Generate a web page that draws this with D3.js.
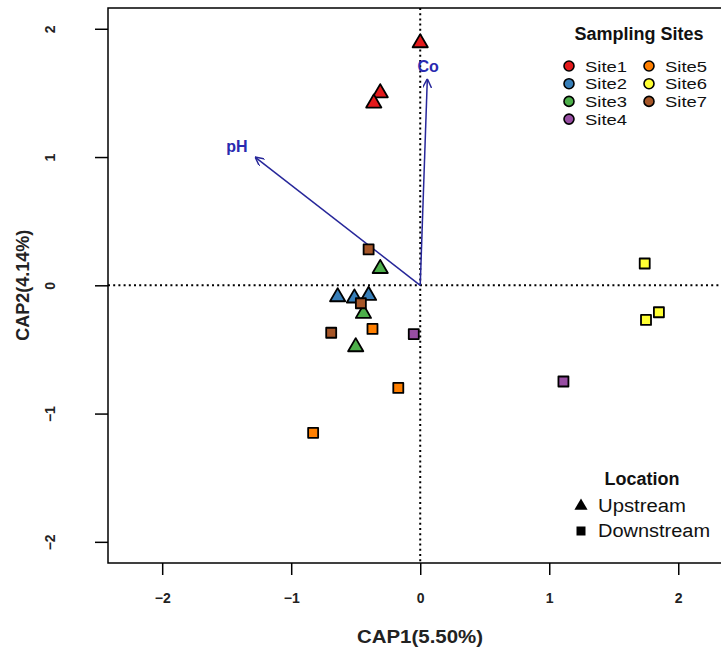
<!DOCTYPE html>
<html>
<head>
<meta charset="utf-8">
<script src="https://cdn.jsdelivr.net/npm/d3@7"></script>
<style>
  body { margin: 0; background: #fff; }
  text { font-family: "Liberation Sans", Arial, sans-serif; }
</style>
</head>
<body>
<div id="chart"></div>
<script>
// CAP ordination scores
const siteNames = ["Site1", "Site2", "Site3", "Site4", "Site5", "Site6", "Site7"];
const siteColors = d3.schemeSet1.slice(0, 7);

const sampleSite = ["Site1", "Site1", "Site1", "Site2", "Site2", "Site2", "Site3", "Site3", "Site3",
                    "Site4", "Site4", "Site5", "Site5", "Site5", "Site6", "Site6", "Site6",
                    "Site7", "Site7", "Site7"];
const sampleLoc = ["Upstream", "Upstream", "Upstream", "Upstream", "Upstream", "Upstream",
                   "Upstream", "Upstream", "Upstream",
                   "Downstream", "Downstream", "Downstream", "Downstream", "Downstream",
                   "Downstream", "Downstream", "Downstream", "Downstream", "Downstream", "Downstream"];
const cap1 = [0.00, -0.31, -0.36, -0.64, -0.51, -0.40, -0.31, -0.44, -0.50,
              -0.05, 1.11, -0.37, -0.17, -0.83, 1.74, 1.75, 1.85, -0.40, -0.46, -0.69];
const cap2 = [1.89, 1.50, 1.42, -0.09, -0.10, -0.08, 0.13, -0.22, -0.48,
              -0.38, -0.75, -0.34, -0.80, -1.15, 0.17, -0.27, -0.21, 0.28, -0.14, -0.37];

// environmental vectors
const envNames = ["pH", "Co"];
const envX = [-1.28, 0.055];
const envY = [1.00, 1.61];

const xTicks = [-2, -1, 0, 1, 2];
const yTicks = [-2, -1, 0, 1, 2];
const locations = ["Upstream", "Downstream"];

const W = 721, H = 653;
const plot = { left: 108, right: 726, top: 8, bottom: 563 };

const x = d3.scaleLinear().domain([-2.42, 2.37]).range([plot.left, plot.right]);
const y = d3.scaleLinear().domain([-2.165, 2.162]).range([plot.bottom, plot.top]);
const color = d3.scaleOrdinal().domain(siteNames).range(siteColors);

const svg = d3.select("#chart").append("svg")
  .attr("width", W).attr("height", H);

svg.append("defs").append("marker")
  .attr("id", "arrow")
  .attr("viewBox", "0 0 10 10")
  .attr("refX", 10).attr("refY", 5)
  .attr("markerWidth", 9).attr("markerHeight", 9)
  .attr("markerUnits", "userSpaceOnUse")
  .attr("orient", "auto")
  .append("path")
  .attr("d", "M0,0 L10,5 L0,10")
  .attr("fill", "none")
  .attr("stroke", "#27279a")
  .attr("stroke-width", 1.6);

// dotted reference lines
svg.append("line")
  .attr("x1", plot.left).attr("x2", plot.right)
  .attr("y1", y(0)).attr("y2", y(0))
  .attr("stroke", "#000").attr("stroke-width", 2)
  .attr("stroke-dasharray", "2,3.2");
svg.append("line")
  .attr("x1", x(0)).attr("x2", x(0))
  .attr("y1", plot.top).attr("y2", plot.bottom)
  .attr("stroke", "#000").attr("stroke-width", 2)
  .attr("stroke-dasharray", "2,3.2");

// box
svg.append("rect")
  .attr("x", plot.left).attr("y", plot.top)
  .attr("width", plot.right - plot.left).attr("height", plot.bottom - plot.top)
  .attr("fill", "none").attr("stroke", "#000").attr("stroke-width", 1.5);

// axes
const xAxis = svg.append("g")
  .attr("transform", `translate(0,${plot.bottom})`)
  .call(d3.axisBottom(x).tickValues(xTicks).tickSize(12).tickPadding(18).tickFormat(d3.format("d")));
const yAxis = svg.append("g")
  .attr("transform", `translate(${plot.left},0)`)
  .call(d3.axisLeft(y).tickValues(yTicks).tickSize(13).tickPadding(0).tickFormat(d3.format("d")));
[xAxis, yAxis].forEach(g => {
  g.select(".domain").remove();
  g.selectAll(".tick line").attr("stroke", "#000").attr("stroke-width", 1.5);
  g.selectAll(".tick text")
    .attr("font-family", "Liberation Sans, Arial, sans-serif")
    .attr("font-size", 14).attr("font-weight", "bold").attr("fill", "#222");
});
yAxis.selectAll(".tick text")
  .attr("x", null).attr("dy", null)
  .attr("text-anchor", "middle")
  .attr("transform", "translate(-58,0) rotate(-90)")
  .attr("dy", "0.35em");

// axis titles
svg.append("text")
  .attr("x", 420).attr("y", 643)
  .attr("text-anchor", "middle")
  .attr("font-size", 18).attr("font-weight", "bold").attr("fill", "#222")
  .attr("textLength", 126).attr("lengthAdjust", "spacingAndGlyphs")
  .text("CAP1(5.50%)");
svg.append("text")
  .attr("transform", `translate(29,${y(0)}) rotate(-90)`)
  .attr("text-anchor", "middle")
  .attr("font-size", 18).attr("font-weight", "bold").attr("fill", "#222")
  .text("CAP2(4.14%)");

// biplot arrows
const env = envNames.map((n, i) => ({ name: n, x: envX[i], y: envY[i] }));
svg.append("g").selectAll("line")
  .data(env).enter().append("line")
  .attr("x1", x(0)).attr("y1", y(0))
  .attr("x2", d => x(d.x)).attr("y2", d => y(d.y))
  .attr("stroke", "#27279a").attr("stroke-width", 1.5)
  .attr("marker-end", "url(#arrow)");
svg.append("g").selectAll("text")
  .data(env).enter().append("text")
  .attr("x", d => x(d.x * 1.11))
  .attr("y", d => y(d.y * (d.name === "Co" ? 1.06 : 1.085)))
  .attr("text-anchor", "middle")
  .attr("dy", "0.35em")
  .attr("font-size", 16).attr("font-weight", "bold")
  .attr("fill", "#2a2ab0")
  .text(d => d.name);

// samples
const samples = cap1.map((v, i) => ({ x: v, y: cap2[i], site: sampleSite[i], loc: sampleLoc[i] }));
const triPath = d3.symbol().type(d3.symbolTriangle).size(100)();
const sqPath = "M-5,-5H5V5H-5Z";
svg.append("g").selectAll("path")
  .data(samples).enter().append("path")
  .attr("transform", d => `translate(${x(d.x)},${y(d.y)})`)
  .attr("d", d => d.loc === "Upstream" ? triPath : sqPath)
  .attr("fill", d => color(d.site))
  .attr("stroke", "#000")
  .attr("stroke-width", 1.8)
  .attr("stroke-linejoin", "round");

// legend: sampling sites
const leg = svg.append("g");
leg.append("text")
  .attr("x", 639).attr("y", 40)
  .attr("text-anchor", "middle")
  .attr("font-size", 18).attr("font-weight", "bold").attr("fill", "#111")
  .text("Sampling Sites");
const legItems = leg.selectAll("g.item")
  .data(siteNames).enter().append("g")
  .attr("transform", (d, i) => {
    const col = Math.floor(i / 4), row = i % 4;
    return `translate(${569 + col * 80},${66 + row * 17.7})`;
  });
legItems.append("circle")
  .attr("r", 5)
  .attr("fill", d => color(d))
  .attr("stroke", "#000").attr("stroke-width", 1.6);
// text in the reference is a little wider than it is tall
legItems.append("text")
  .attr("x", 16).attr("dy", "0.36em")
  .attr("font-size", 15.5).attr("fill", "#111")
  .attr("textLength", 42).attr("lengthAdjust", "spacingAndGlyphs")
  .text(d => d);

// legend: location
const loc = svg.append("g");
loc.append("text")
  .attr("x", 642).attr("y", 485)
  .attr("text-anchor", "middle")
  .attr("font-size", 18).attr("font-weight", "bold").attr("fill", "#111")
  .text("Location");
const locItems = loc.selectAll("g.item")
  .data(locations).enter().append("g")
  .attr("transform", (d, i) => `translate(581,${506 + i * 25})`);
locItems.append("path")
  .attr("d", d => d === "Upstream" ? d3.symbol().type(d3.symbolTriangle).size(75)() : "M-4.5,-4.5H4.5V4.5H-4.5Z")
  .attr("fill", "#000");
locItems.append("text")
  .attr("x", 17).attr("dy", "0.36em")
  .attr("font-size", 18).attr("fill", "#111")
  .attr("textLength", d => d === "Upstream" ? 88 : 112).attr("lengthAdjust", "spacingAndGlyphs")
  .text(d => d);
</script>
</body>
</html>
